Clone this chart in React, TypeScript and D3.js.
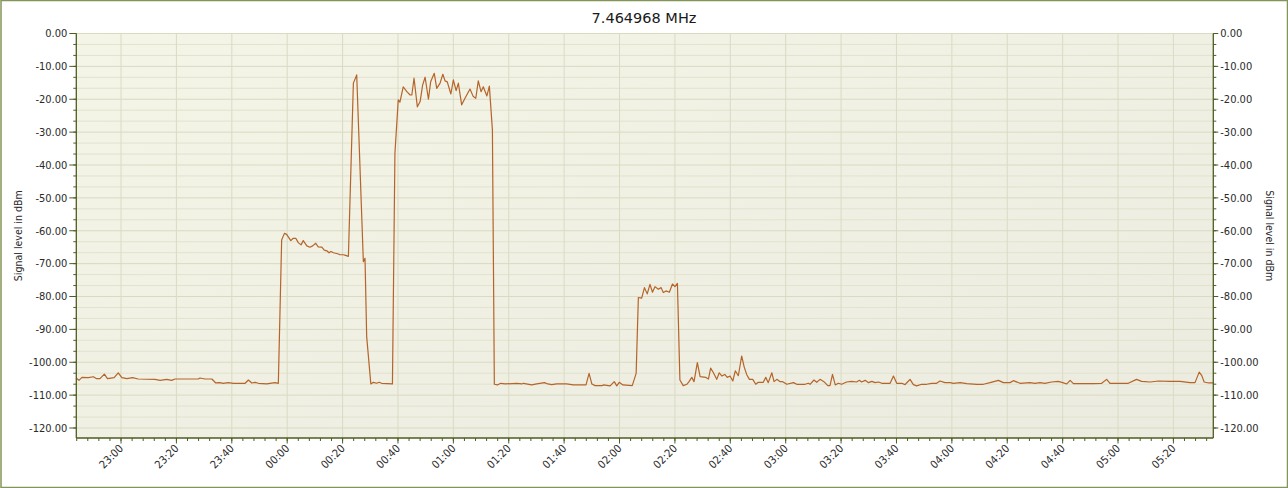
import React from "react";
import * as d3 from "d3";

// time in minutes after 22:00 (values > 120 are after midnight)
const times: number[] = [
  43.75, 44.8, 45.9, 48.2, 50.0, 51.2, 52.4, 54.0, 55.1, 57.5, 59.0, 60.3, 62.1, 64.2, 66.2, 72.3, 74.1, 76.5, 78.3, 79.5,
  87.9, 88.5, 90.3, 92.8, 94.2, 95.7, 96.9, 98.7, 100.6, 104.8, 106.0, 107.2, 108.4, 109.6, 112.6, 113.8, 115.6, 116.8,
  118.0, 119.0, 119.8, 121.3, 122.2, 123.1, 124.0, 125.0, 125.8, 127.1, 128.2, 129.2, 130.3, 131.2, 132.5, 133.4, 134.3,
  135.1, 135.8, 136.7, 138.2, 139.1, 140.3, 141.1, 142.1, 143.9, 145.1, 147.5, 148.1, 148.7, 150.2, 151.1, 152.3, 153.2,
  154.1, 158.0, 158.9, 160.1, 160.7, 161.9, 163.2, 164.4, 165.0, 165.8, 167.0, 168.0, 168.9, 169.8, 171.0, 171.8, 172.6,
  173.1, 174.0, 175.2, 176.2, 177.0, 177.8, 179.1, 180.0, 181.0, 181.8, 183.0, 184.2, 186.0, 187.2, 188.1, 189.0, 190.0,
  190.8, 192.1, 193.0, 194.1, 194.8, 195.9, 197.1, 198.7, 202.9, 204.7, 205.3, 208.3, 210.1, 212.9, 214.1, 215.5, 217.3,
  220.9, 223.3, 227.9, 229.0, 230.0, 231.2, 233.6, 234.2, 236.6, 238.1, 239.0, 239.9, 241.2, 244.6, 246.0, 246.8, 248.0,
  249.0, 250.0, 251.0, 251.9, 252.8, 254.0, 255.0, 255.8, 256.8, 258.0, 259.1, 260.0, 260.9, 261.8, 263.0, 264.3, 265.1,
  266.1, 266.9, 268.1, 269.1, 271.2, 272.1, 272.9, 273.9, 275.1, 276.0, 277.0, 278.0, 278.9, 279.9, 280.9, 281.8, 282.9,
  284.1, 285.0, 285.9, 286.9, 288.1, 289.2, 290.1, 291.9, 292.8, 293.7, 295.0, 295.8, 296.8, 298.0, 298.9, 300.4, 302.8,
  304.0, 307.0, 308.2, 308.8, 310.2, 311.2, 312.4, 313.8, 315.2, 316.0, 316.9, 317.9, 319.0, 320.2, 322.0, 323.8, 325.6,
  326.6, 327.4, 328.7, 329.9, 331.1, 332.3, 333.5, 334.7, 337.7, 338.9, 340.1, 341.9, 343.1, 344.0, 344.9, 346.1, 347.3,
  349.1, 350.9, 352.7, 354.5, 355.7, 357.5, 359.4, 360.5, 363.0, 365.4, 369.0, 371.4, 373.8, 376.8, 378.6, 381.0, 382.2,
  384.6, 388.2, 390.0, 391.8, 393.6, 396.0, 398.4, 400.0, 401.5, 402.7, 403.9, 411.1, 414.1, 415.9, 417.1, 420.1, 423.7,
  426.7, 428.5, 431.6, 434.6, 438.8, 442.4, 446.0, 447.8, 449.3, 450.2, 451.1, 452.7, 454.4,
];

const levels: number[] = [
  -104.8, -105.5, -104.6, -104.7, -104.4, -105.0, -105.0, -103.6, -105.0, -104.7, -103.2, -104.7, -105.0, -104.7, -105.1, -105.2, -105.5, -105.2, -105.5, -105.1,
  -105.1, -104.8, -105.1, -105.1, -106.3, -106.2, -106.4, -106.2, -106.4, -106.4, -105.4, -106.3, -106.1, -106.4, -106.6, -106.4, -106.2, -106.4,
  -62.8, -60.8, -61.1, -63.0, -62.3, -62.3, -63.6, -64.3, -63.0, -64.6, -65.0, -64.6, -63.8, -64.9, -65.0, -65.9, -66.1,
  -66.7, -66.3, -66.7, -67.0, -67.3, -67.3, -67.5, -67.8, -15.1, -12.6, -69.4, -68.4, -92.2, -106.6, -106.1, -106.4, -106.1,
  -106.4, -106.6, -36.4, -20.2, -20.9, -16.2, -17.7, -18.7, -18.7, -13.6, -22.3, -20.7, -15.7, -13.3, -20.0, -14.7, -13.1,
  -12.1, -16.7, -15.1, -12.4, -14.4, -14.7, -18.4, -14.1, -17.4, -15.1, -21.7, -19.7, -16.9, -19.2, -19.7, -14.4, -17.7,
  -16.2, -19.0, -16.0, -29.4, -106.7, -106.9, -106.4, -106.6, -106.4, -106.6, -106.4, -106.9, -106.6, -106.2, -106.6, -106.8, -106.6,
  -106.6, -106.9, -106.9, -103.4, -106.6, -107.1, -107.1, -106.9, -107.2, -105.9, -107.2, -106.1, -106.9, -107.1, -103.4, -80.3, -80.5,
  -77.3, -79.2, -76.3, -78.7, -77.0, -77.8, -77.3, -78.8, -78.3, -78.7, -76.2, -77.0, -76.0, -105.4, -107.1, -106.7, -105.9,
  -104.6, -105.9, -100.1, -104.4, -104.6, -105.1, -101.8, -103.2, -105.2, -103.2, -104.2, -103.7, -104.6, -104.2, -105.7, -102.6, -104.1,
  -98.1, -101.4, -103.7, -105.2, -105.2, -106.7, -106.1, -106.1, -104.6, -106.2, -103.2, -105.9, -105.2, -105.9, -105.9, -106.7, -106.2,
  -106.7, -106.7, -106.4, -106.7, -105.4, -106.1, -105.2, -105.9, -107.1, -107.1, -103.7, -106.9, -106.4, -106.7, -106.0, -105.8, -106.0,
  -105.5, -106.0, -105.5, -106.2, -105.8, -106.2, -106.0, -106.4, -106.4, -104.2, -106.4, -106.4, -106.8, -106.0, -105.2, -106.8, -107.2,
  -106.7, -106.7, -106.4, -106.4, -105.7, -106.2, -106.2, -106.4, -106.2, -106.5, -106.7, -106.7, -106.2, -105.5, -106.2, -106.2, -105.6,
  -106.4, -106.2, -106.4, -106.2, -106.4, -106.0, -105.8, -106.2, -106.6, -105.5, -106.5, -106.5, -106.4, -105.2, -106.4, -106.4, -106.4,
  -105.2, -105.8, -106.0, -105.7, -105.8, -105.8, -106.2, -106.2, -103.0, -104.0, -106.0, -106.3, -106.3,
];

const yTickValues: number[] = [0, -10, -20, -30, -40, -50, -60, -70, -80, -90, -100, -110, -120];
const xTickMinutes: number[] = [60, 80, 100, 120, 140, 160, 180, 200, 220, 240, 260, 280, 300, 320, 340, 360, 380, 400, 420, 440];

const title = "7.464968 MHz";
const axisTitle = "Signal level in dBm";

const W = 1288;
const H = 488;
const L = 76.3;
const R = 1213.3;
const T = 33.5;
const B = 438;

const FONT = "'DejaVu Sans Condensed', 'DejaVu Sans', sans-serif";
const AXIS = "#4d5d22";
const TEXT = "#2a2a2a";

function fmtTime(m: number): string {
  const total = 22 * 60 + Math.round(m);
  const h = Math.floor(total / 60) % 24;
  const mm = total % 60;
  return `${String(h).padStart(2, "0")}:${String(mm).padStart(2, "0")}`;
}

export default function App() {
  const x = d3.scaleLinear().domain([43.85, 454.4]).range([L, R]);
  const y = d3.scaleLinear().domain([-123.04, 0]).range([B, T]);

  const pts: [number, number][] = times.map((t, i) => [t, levels[i]]);
  const line = d3
    .line<[number, number]>()
    .x((d) => x(d[0]))
    .y((d) => y(d[1]));

  const minorY: number[] = d3.range(0, 124, 10 / 3).map((v) => -v).filter((v) => v >= -123.04);
  const minorX: number[] = d3.range(44, 455, 4);

  return (
    <svg
      width={W}
      height={H}
      style={{ position: "fixed", left: 0, top: 0, display: "block" }}
      fontFamily={FONT}
    >
      <defs>
        <linearGradient id="bg" x1="0" y1="0" x2="1" y2="1">
          <stop offset="0" stopColor="#f4f4e7" />
          <stop offset="1" stopColor="#ecebdf" />
        </linearGradient>
      </defs>
      <rect x={0} y={0} width={W} height={H} fill="#ffffff" />
      <rect x={1} y={0.5} width={W - 1.5} height={H - 1} fill="none" stroke="#839558" strokeWidth={1.5} />

      <text x={644} y={23} textAnchor="middle" fontSize={14.5} fill="#1a1a1a" fontFamily="'DejaVu Sans', sans-serif">
        {title}
      </text>

      <rect x={L} y={T} width={R - L} height={B - T} fill="url(#bg)" />

      {/* horizontal grid */}
      {minorY.map((v, i) => (
        <line
          key={"hg" + i}
          x1={L}
          x2={R}
          y1={y(v)}
          y2={y(v)}
          stroke={Math.abs(v % 10) < 0.01 || Math.abs(Math.abs(v % 10) - 10) < 0.01 ? "#d9dac2" : "#e2e2cf"}
          strokeWidth={1}
        />
      ))}
      {/* vertical grid */}
      {xTickMinutes.map((m) => (
        <line key={"vg" + m} x1={x(m)} x2={x(m)} y1={T} y2={B} stroke="#dadbc3" strokeWidth={1} />
      ))}

      <path d={line(pts) || ""} fill="none" stroke="#b5642a" strokeWidth={1.2} strokeLinejoin="round" />

      {/* left axis */}
      <line x1={L} x2={L} y1={T} y2={B} stroke={AXIS} strokeWidth={1.3} />
      {minorY.map((v, i) => (
        <line key={"lmt" + i} x1={L - 3} x2={L} y1={y(v)} y2={y(v)} stroke={AXIS} />
      ))}
      {yTickValues.map((v) => (
        <g key={"ly" + v}>
          <line x1={L - 7} x2={L} y1={y(v)} y2={y(v)} stroke={AXIS} />
          <text x={L - 9} y={y(v)} dy="0.35em" textAnchor="end" fontSize={11} fill={TEXT}>
            {v.toFixed(2)}
          </text>
        </g>
      ))}
      {/* right axis */}
      <line x1={R} x2={R} y1={T} y2={B} stroke={AXIS} strokeWidth={1.3} />
      {minorY.map((v, i) => (
        <line key={"rmt" + i} x1={R} x2={R + 3} y1={y(v)} y2={y(v)} stroke={AXIS} />
      ))}
      {yTickValues.map((v) => (
        <g key={"ry" + v}>
          <line x1={R} x2={R + 5} y1={y(v)} y2={y(v)} stroke={AXIS} />
          <text x={R + 7} y={y(v)} dy="0.35em" textAnchor="start" fontSize={11} fill={TEXT}>
            {v.toFixed(2)}
          </text>
        </g>
      ))}

      {/* bottom axis */}
      <line x1={L} x2={R} y1={B} y2={B} stroke={AXIS} strokeWidth={1.3} />
      {minorX.map((m) => (
        <line key={"bmt" + m} x1={x(m)} x2={x(m)} y1={B} y2={B + 3} stroke={AXIS} />
      ))}
      {xTickMinutes.map((m) => (
        <g key={"bx" + m}>
          <line x1={x(m)} x2={x(m)} y1={B} y2={B + 5.5} stroke={AXIS} />
          <text
            transform={`translate(${x(m) + 3},${B + 11}) rotate(-45)`}
            textAnchor="end"
            fontSize={11}
            fill={TEXT}
          >
            {fmtTime(m)}
          </text>
        </g>
      ))}

      {/* axis titles */}
      <text
        transform={`translate(22,${(T + B) / 2}) rotate(-90)`}
        textAnchor="middle"
        fontSize={10.5}
        fill={TEXT}
      >
        {axisTitle}
      </text>
      <text
        transform={`translate(1266,${(T + B) / 2}) rotate(90)`}
        textAnchor="middle"
        fontSize={10.5}
        fill={TEXT}
      >
        {axisTitle}
      </text>
    </svg>
  );
}
